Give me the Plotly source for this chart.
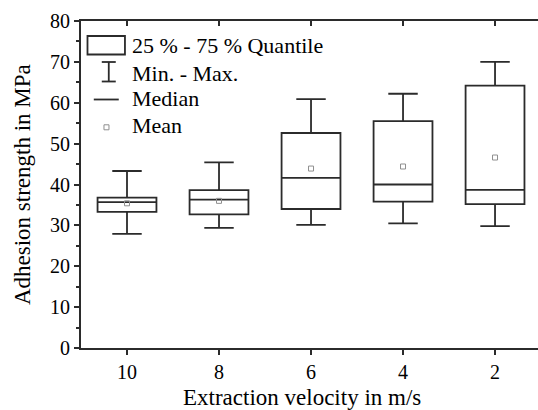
import plotly.graph_objects as go

# Adhesion strength statistics per extraction velocity
velocities = ["10", "8", "6", "4", "2"]
q1 = [33.3, 32.7, 34.0, 35.8, 35.2]
median = [35.7, 36.3, 41.6, 40.0, 38.7]
q3 = [36.8, 38.6, 52.6, 55.5, 64.2]
minimum = [27.9, 29.4, 30.1, 30.5, 29.8]
maximum = [43.3, 45.4, 60.9, 62.2, 70.0]
mean = [35.4, 36.0, 43.9, 44.4, 46.6]

legend_labels = ["25 % - 75 % Quantile", "Min. - Max.", "Median", "Mean"]

W, H = 538, 410
PL, PR, PT, PB = 80.5, 538.0, 21.0, 348.0
FONT = "Liberation Serif"
LINE = "#2b2b2b"
LW = 1.8
MEAN_COLOR = "#8f8f8f"


def px(x):
    return (x - PL) / (PR - PL)


def py(y):
    return (PB - y) / (PB - PT)


fig = go.Figure()

fig.add_trace(go.Box(
    x=velocities, q1=q1, median=median, q3=q3,
    lowerfence=minimum, upperfence=maximum,
    boxpoints=False, width=0.64, whiskerwidth=0.5,
    line=dict(color=LINE, width=LW), fillcolor="rgba(0,0,0,0)",
    showlegend=False, hoverinfo="skip",
))

fig.add_trace(go.Scatter(
    x=velocities, y=mean, mode="markers",
    marker=dict(symbol="square-open", size=5, color=MEAN_COLOR,
                line=dict(width=1, color=MEAN_COLOR)),
    showlegend=False, hoverinfo="skip",
))

# invisible trace so the top axis is drawn
fig.add_trace(go.Scatter(x=velocities, y=mean, xaxis="x2", mode="markers",
                         marker=dict(opacity=0), showlegend=False, hoverinfo="skip"))

xrange = [-0.5, 4.467]
fig.update_layout(
    width=W, height=H,
    margin=dict(l=PL, r=W - PR, t=PT, b=H - PB, pad=0),
    paper_bgcolor="white", plot_bgcolor="white",
    font=dict(family=FONT, size=20, color="black"),
    xaxis=dict(
        type="category", range=xrange, showgrid=False, zeroline=False,
        showline=True, linecolor=LINE, linewidth=LW,
        ticks="outside", ticklen=5, tickwidth=LW, tickcolor=LINE,
        tickfont=dict(size=20),
    ),
    xaxis2=dict(
        type="category", range=xrange, overlaying="x", side="top",
        showgrid=False, zeroline=False, showline=True, linecolor=LINE,
        linewidth=LW, ticks="inside", ticklen=5, tickwidth=LW,
        tickcolor=LINE, showticklabels=False,
    ),
    yaxis=dict(
        range=[0, 80], dtick=10, showgrid=False, zeroline=False,
        showline=True, linecolor=LINE, linewidth=LW,
        ticks="outside", ticklen=5, tickwidth=LW, tickcolor=LINE,
        tickfont=dict(size=20),
        minor=dict(dtick=5, ticks="outside", ticklen=3, tickwidth=1.5,
                   tickcolor=LINE, showgrid=False),
    ),
)

annotations = [
    dict(text="Extraction velocity in m/s", x=px(301.5), y=py(397.5),
         xref="paper", yref="paper", showarrow=False,
         xanchor="center", yanchor="middle", font=dict(size=23)),
    dict(text="Adhesion strength in MPa", x=px(22), y=py(184.5),
         xref="paper", yref="paper", showarrow=False, textangle=-90,
         xanchor="center", yanchor="middle", font=dict(size=23)),
]
for label, yc in zip(legend_labels, [45, 73, 98, 126]):
    annotations.append(dict(text=label, x=px(130), y=py(yc), xref="paper",
                            yref="paper", showarrow=False, xanchor="left",
                            yanchor="middle", font=dict(size=22)))

shapes = []


def seg(x0, y0, x1, y1, color=LINE, width=LW):
    shapes.append(dict(type="line", xref="paper", yref="paper",
                       x0=px(x0), y0=py(y0), x1=px(x1), y1=py(y1),
                       line=dict(color=color, width=width)))


# legend keys
shapes.append(dict(type="rect", xref="paper", yref="paper",
                   x0=px(87), x1=px(124.5), y0=py(36), y1=py(54.5),
                   line=dict(color=LINE, width=LW)))
seg(108.3, 62, 108.3, 81.5)
seg(101.3, 62, 115.3, 62)
seg(101.3, 81.5, 115.3, 81.5)
seg(93.3, 99.5, 118.3, 99.5)
shapes.append(dict(type="rect", xref="paper", yref="paper",
                   x0=px(103.5), x1=px(108.5), y0=py(124.8), y1=py(129.8),
                   line=dict(color=MEAN_COLOR, width=1)))

fig.update_layout(annotations=annotations, shapes=shapes)

fig.write_html("out.html")
